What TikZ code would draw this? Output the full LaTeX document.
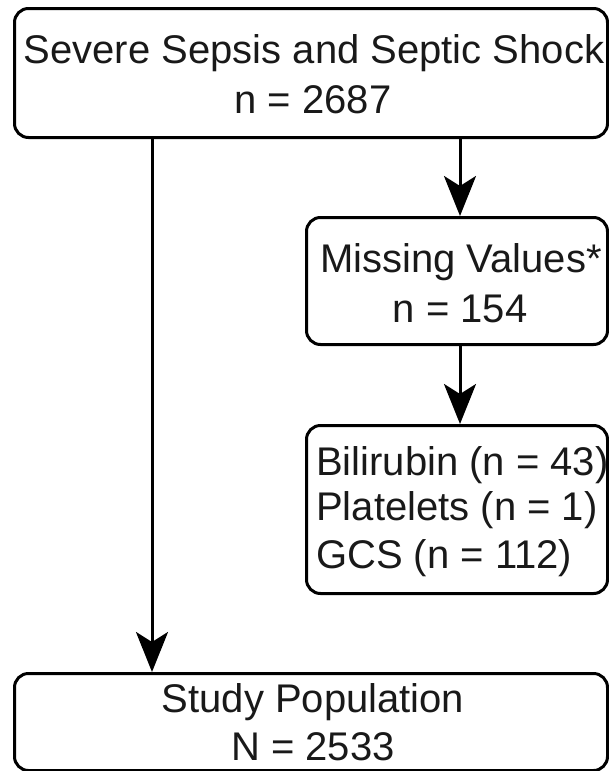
\documentclass[tikz,border=0pt]{standalone}
\usepackage{fontspec}
\setmainfont{Liberation Sans}
\usetikzlibrary{arrows.meta}
\begin{document}
\begin{tikzpicture}[x=1pt,y=-1pt,
  box/.style={draw=black, line width=3pt, rounded corners=14pt, inner sep=0pt, anchor=north west},
  lbl/.style={inner sep=0pt, text=black!90, font=\fontsize{40}{46}\selectfont, anchor=base},
  lbll/.style={lbl, anchor=base west},
  arr/.style={line width=3pt, -{Stealth[length=40pt,width=32pt,inset=10pt]}}]
\useasboundingbox (0,0) rectangle (608,771);
\node[box, minimum width=593pt, minimum height=129pt] (top) at (13,7) {};
\node[box, minimum width=301pt, minimum height=127pt] (miss) at (305,216) {};
\node[box, minimum width=301pt, minimum height=168pt] (bili) at (305,424) {};
\node[box, minimum width=593pt, minimum height=97pt] (study) at (13,672) {};
\coordinate (la) at (152,0);
\coordinate (ra) at (460,0);
\node[lbl] (t1a) at (314,63) {Severe Sepsis and Septic Shock};
\node[lbl] (t1b) at (313,113) {n = 2687};
\node[lbl] (t2a) at (461,272) {Missing Values*};
\node[lbl] (t2b) at (460,322) {n = 154};
\node[lbll] (t3a) at (316,475) {Bilirubin (n = 43)};
\node[lbll] (t3b) at (316,520) {Platelets (n = 1)};
\node[lbll] (t3c) at (316,568) {GCS (n = 112)};
\node[lbl] (t4a) at (313,712) {Study Population};
\node[lbl] (t4b) at (313,760) {N = 2533};
\draw[arr] (top.south -| la) -- (study.north -| la);
\draw[arr] (top.south -| ra) -- (miss.north -| ra);
\draw[arr] (miss.south -| ra) -- (bili.north -| ra);
\end{tikzpicture}
\end{document}
